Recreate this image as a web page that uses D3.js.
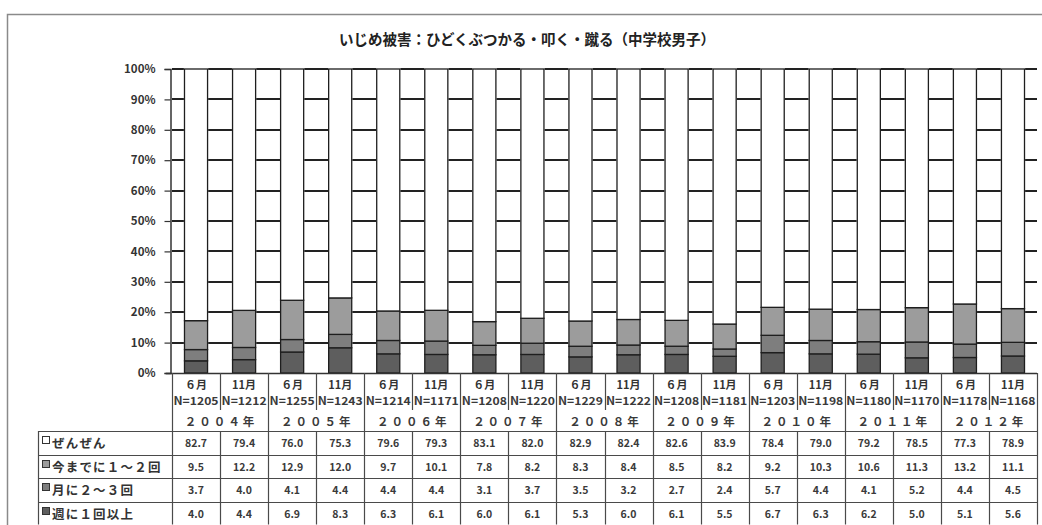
<!DOCTYPE html>
<html>
<head>
<meta charset="utf-8">
<script src="https://cdn.jsdelivr.net/npm/d3@7"></script>
<style>
  html, body { margin: 0; padding: 0; background: #fff; }
  svg { display: block; }
  text { font-family: "Noto Sans CJK JP", "Noto Sans", sans-serif; }
</style>
</head>
<body>
<svg id="chart" width="1042" height="525"></svg>
<script>
// Survey periods (June / November of each year) and sample sizes
const months = ["６月","11月","６月","11月","６月","11月","６月","11月","６月","11月",
                "６月","11月","６月","11月","６月","11月","６月","11月"];
const sampleN = [1205,1212,1255,1243,1214,1171,1208,1220,1229,1222,
                 1208,1181,1203,1198,1180,1170,1178,1168];
const years = ["２００４年","２００５年","２００６年","２００７年","２００８年",
               "２００９年","２０１０年","２０１１年","２０１２年"];

// Response shares (%) per period
const zenzen  = [82.7,79.4,76.0,75.3,79.6,79.3,83.1,82.0,82.9,82.4,82.6,83.9,78.4,79.0,79.2,78.5,77.3,78.9];
const imamade = [9.5,12.2,12.9,12.0,9.7,10.1,7.8,8.2,8.3,8.4,8.5,8.2,9.2,10.3,10.6,11.3,13.2,11.1];
const tsuki   = [3.7,4.0,4.1,4.4,4.4,4.4,3.1,3.7,3.5,3.2,2.7,2.4,5.7,4.4,4.1,5.2,4.4,4.5];
const shu     = [4.0,4.4,6.9,8.3,6.3,6.1,6.0,6.1,5.3,6.0,6.1,5.5,6.7,6.3,6.2,5.0,5.1,5.6];

const seriesNames = ["ぜんぜん","今までに１～２回","月に２～３回","週に１回以上"];
const yTicks = [0,0.1,0.2,0.3,0.4,0.5,0.6,0.7,0.8,0.9,1.0];

const title = "いじめ被害：ひどくぶつかる・叩く・蹴る（中学校男子）";

// ---- derived table for stacking ----
const keys = ["shu","tsuki","imamade","zenzen"]; // bottom → top
const rows = months.map((m, i) => ({
  zenzen: zenzen[i], imamade: imamade[i], tsuki: tsuki[i], shu: shu[i]
}));
const layers = d3.stack().keys(keys).offset(d3.stackOffsetExpand)(rows);

const fills = { zenzen: "#ffffff", imamade: "#9c9c9c", tsuki: "#7e7e7e", shu: "#5e5e5e" };
const tableSeries = [
  { name: seriesNames[0], vals: zenzen,  fill: fills.zenzen },
  { name: seriesNames[1], vals: imamade, fill: fills.imamade },
  { name: seriesNames[2], vals: tsuki,   fill: fills.tsuki },
  { name: seriesNames[3], vals: shu,     fill: fills.shu }
];

const svg = d3.select("#chart");
const W = 1042, H = 525;
const plotLeft = 172, plotRight = 1037, plotTop = 69, plotBottom = 373;

const x = d3.scaleBand()
  .domain(d3.range(months.length))
  .range([plotLeft, plotRight])
  .paddingInner(0.52).paddingOuter(0.26);
const step = x.step();
const bw = x.bandwidth();
const y = d3.scaleLinear().domain([0, 1]).range([plotBottom, plotTop]);

// stacked bars
const g = svg.append("g");
layers.forEach(layer => {
  g.append("g").selectAll("rect")
    .data(layer)
    .join("rect")
    .attr("x", (d, i) => x(i))
    .attr("width", bw)
    .attr("y", d => y(d[1]))
    .attr("height", d => y(d[0]) - y(d[1]))
    .attr("fill", fills[layer.key])
    .attr("stroke", "#1e1e1e").attr("stroke-width", 1.3);
});

// horizontal gridlines in the gaps between bars
const gridG = svg.append("g");
yTicks.slice(1).forEach(t => {
  const yy = Math.round(y(t));
  for (let i = 0; i <= months.length; i++) {
    const x1 = i === 0 ? plotLeft : x(i - 1) + bw + 0.6;
    const x2 = i === months.length ? plotRight : x(i) - 0.6;
    gridG.append("line")
      .attr("x1", x1).attr("x2", x2).attr("y1", yy).attr("y2", yy)
      .attr("stroke", "#222").attr("stroke-width", 2);
  }
});

// outer frame
svg.append("path")
  .attr("d", `M7.5,${H} L7.5,14.5 L${W},14.5`)
  .attr("fill", "none").attr("stroke", "#8a8a8a").attr("stroke-width", 1.5);

// title
svg.append("text")
  .attr("x", 527).attr("y", 45)
  .attr("text-anchor", "middle")
  .attr("font-size", 14.5).attr("font-weight", "bold").attr("fill", "#222")
  .text(title);

// y axis
const yAxis = d3.axisLeft(y)
  .tickValues(yTicks)
  .tickFormat(d3.format(".0%"))
  .tickSize(6).tickPadding(9);
const ga = svg.append("g").attr("transform", `translate(${plotLeft - 1.5},0)`).call(yAxis);
ga.select(".domain").attr("stroke", "#333").attr("stroke-width", 1.5);
ga.selectAll(".tick line").attr("stroke", "#333").attr("stroke-width", 1.2);
ga.selectAll(".tick text")
  .attr("font-family", "'Liberation Sans', Arial, sans-serif")
  .attr("font-size", 11.5).attr("font-weight", "bold").attr("fill", "#333");

// baseline
svg.append("line")
  .attr("x1", plotLeft - 6).attr("x2", plotRight)
  .attr("y1", plotBottom + 0.5).attr("y2", plotBottom + 0.5)
  .attr("stroke", "#333").attr("stroke-width", 1.5);

// ---- data table ----
const lineColor = "#4a4a4a";
const tbl = svg.append("g");
const headerBottom = 410;
const rowTops = [431, 455, 478, 502];
const tableBottom = 524.5;
const labelLeft = 38;
const colEdge = i => plotLeft + i * step;

// vertical dividers: between months (header + data rows), between years (full height)
for (let i = 0; i <= months.length; i++) {
  const xx = Math.round(colEdge(i)) + 0.5;
  const yearEdge = i % 2 === 0;
  tbl.append("line")
    .attr("x1", xx).attr("x2", xx)
    .attr("y1", plotBottom).attr("y2", yearEdge ? tableBottom : headerBottom)
    .attr("stroke", lineColor).attr("stroke-width", 1.2);
  if (!yearEdge) {
    tbl.append("line")
      .attr("x1", xx).attr("x2", xx)
      .attr("y1", rowTops[0]).attr("y2", tableBottom)
      .attr("stroke", lineColor).attr("stroke-width", 1.2);
  }
}
// horizontal row lines
rowTops.concat([tableBottom]).forEach(ry => {
  tbl.append("line")
    .attr("x1", labelLeft).attr("x2", plotRight)
    .attr("y1", Math.round(ry) + 0.5).attr("y2", Math.round(ry) + 0.5)
    .attr("stroke", lineColor).attr("stroke-width", 1.2);
});
tbl.append("line")
  .attr("x1", labelLeft + 0.5).attr("x2", labelLeft + 0.5)
  .attr("y1", rowTops[0]).attr("y2", tableBottom)
  .attr("stroke", lineColor).attr("stroke-width", 1.2);

// month / N labels
const cx = i => x(i) + bw / 2;
tbl.selectAll("text.month").data(months).join("text")
  .attr("class", "month")
  .attr("x", (d, i) => cx(i)).attr("y", 389)
  .attr("text-anchor", "middle")
  .attr("font-size", 11).attr("font-weight", "bold").attr("fill", "#333")
  .text(d => d);
tbl.selectAll("text.n").data(sampleN).join("text")
  .attr("class", "n")
  .attr("x", (d, i) => cx(i)).attr("y", 405)
  .attr("text-anchor", "middle")
  .attr("font-family", "'Liberation Sans', Arial, sans-serif")
  .attr("font-size", 11).attr("font-weight", "bold").attr("fill", "#3a3a3a")
  .attr("textLength", 45).attr("lengthAdjust", "spacingAndGlyphs")
  .text(d => "N=" + d);
tbl.selectAll("text.year").data(years).join("text")
  .attr("class", "year")
  .attr("x", (d, i) => colEdge(i * 2 + 1) + 1).attr("y", 426)
  .attr("text-anchor", "middle")
  .attr("font-size", 11.5).attr("font-weight", "bold").attr("fill", "#3a3a3a")
  .attr("letter-spacing", 3)
  .text(d => d);

// series rows with legend keys and values
tableSeries.forEach((s, r) => {
  const top = rowTops[r];
  const mid = top + 12;
  tbl.append("rect")
    .attr("x", 42.5).attr("y", mid - 6.5)
    .attr("width", 7).attr("height", 7)
    .attr("fill", s.fill).attr("stroke", "#333").attr("stroke-width", 1);
  tbl.append("text")
    .attr("x", 52).attr("y", mid + 4.5)
    .attr("font-size", 12.5).attr("font-weight", "bold").attr("fill", "#333")
    .attr("letter-spacing", 1.2)
    .text(s.name);
  tbl.selectAll(null).data(s.vals).join("text")
    .attr("x", (d, i) => cx(i)).attr("y", mid + 4)
    .attr("text-anchor", "middle")
    .attr("font-family", "'Liberation Sans', Arial, sans-serif")
    .attr("font-size", 10.5).attr("font-weight", "bold").attr("fill", "#3a3a3a")
    .text(d => d.toFixed(1));
});
</script>
</body>
</html>
